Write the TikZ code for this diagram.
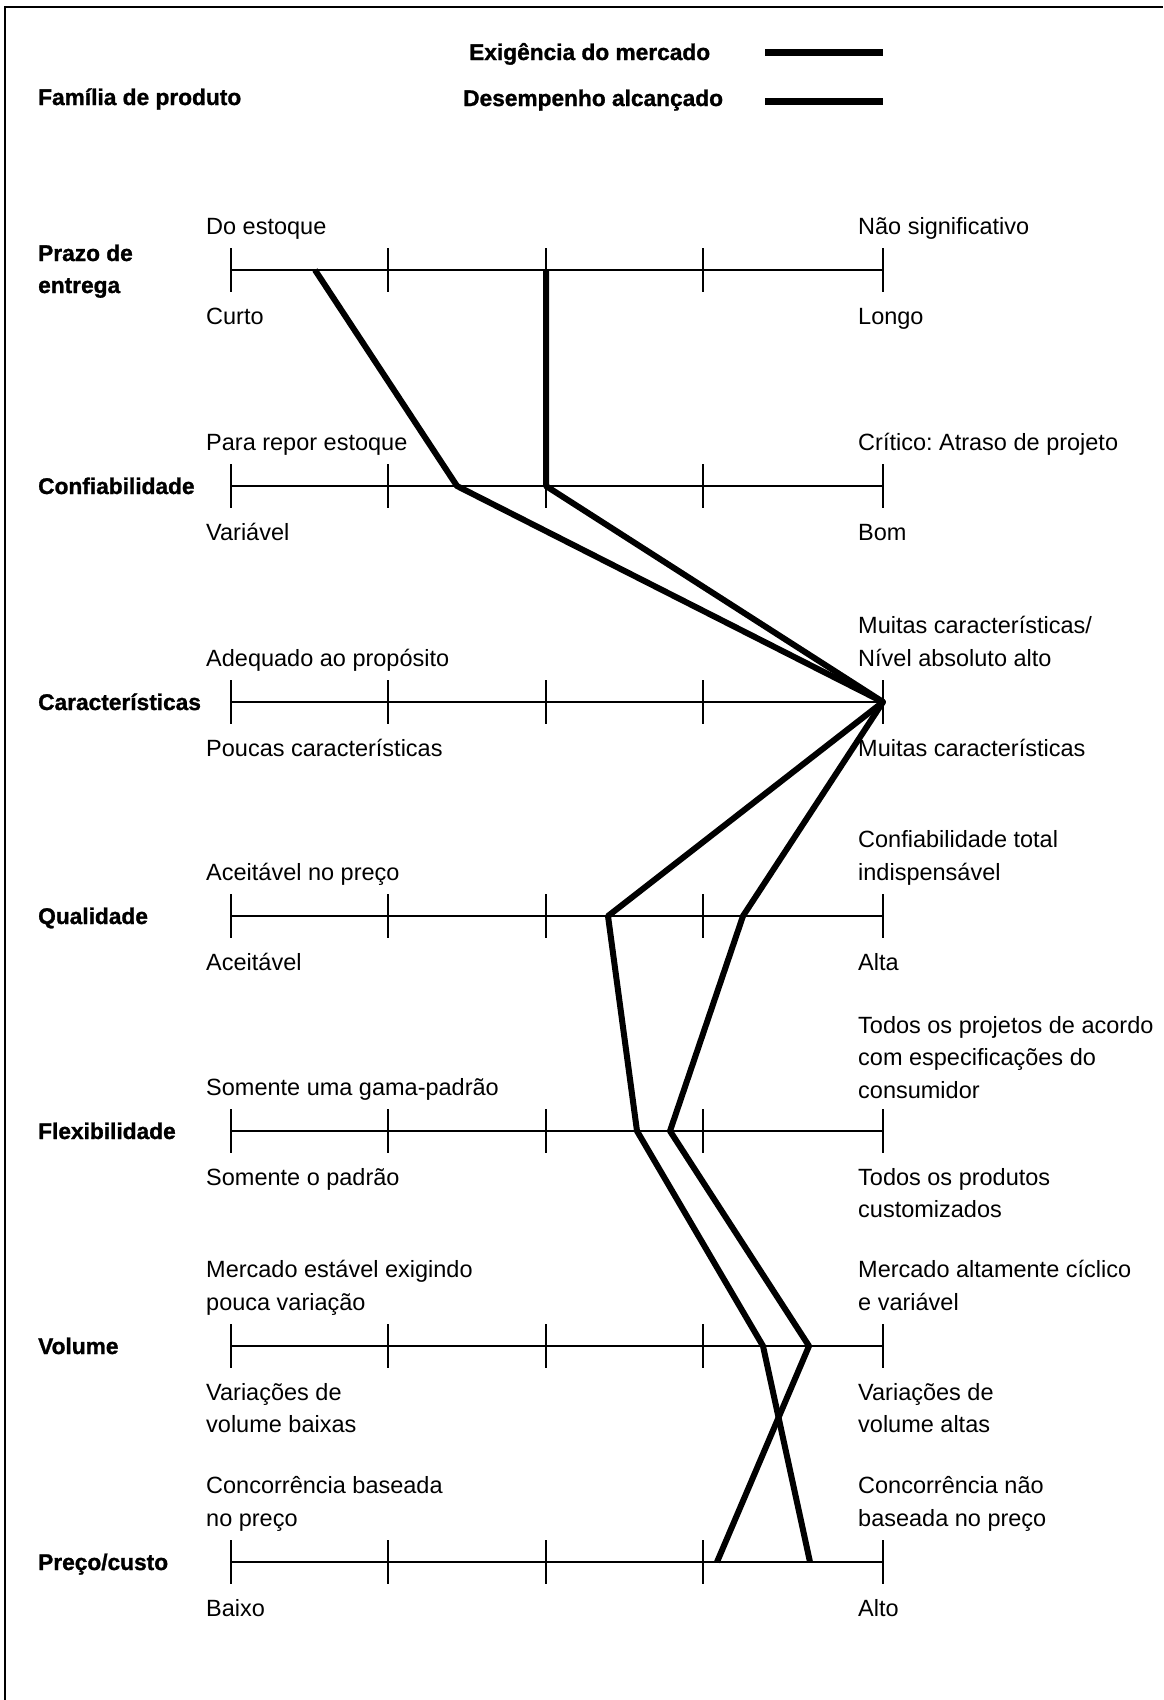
\documentclass[tikz,border=0pt]{standalone}
\usepackage{fontspec}
\setmainfont{Liberation Sans}[BoldFeatures={FakeBold=1.2}]
\frenchspacing
\begin{document}
\begin{tikzpicture}[x=1pt,y=-1pt,
  txt/.style={inner sep=0pt, anchor=base west, font=\fontsize{23.5}{32.5}\selectfont, align=left},
  head/.style={inner sep=0pt, anchor=base west, font=\fontsize{22.7}{32}\selectfont\bfseries, align=left},
  axisline/.style={line width=2pt},
  tickline/.style={line width=1.8pt},
  profile/.style={line width=6pt, line join=round},
  legendline/.style={line width=7pt}]
\useasboundingbox (0,0) rectangle (1163,1700);

% open frame: top and left edges
\draw[line width=2.5pt] (5,1700) -- (5,7) -- (1163,7);

% header and legend
\node[head] (family) at (38,105) {Família de produto};
\node[head] (leg1) at (469,60) {Exigência do mercado};
\node[head] (leg2) at (463,106) {Desempenho alcançado};
\coordinate (l1a) at (765,52);  \coordinate (l1b) at (883,52);
\coordinate (l2a) at (765,101); \coordinate (l2b) at (883,101);
\draw[legendline] (l1a) -- (l1b);
\draw[legendline] (l2a) -- (l2b);

% scales with five ticks each
\foreach \y in {270,486,702,916,1131,1346,1562} {
  \draw[axisline] (231,\y) -- (883,\y);
  \foreach \x in {231,388,546,703,883}
    \draw[tickline] (\x,{\y-22}) -- (\x,{\y+22});
}

% criterion names (anchor = baseline of the last line)
\node[head] (r1) at (38,293) {Prazo de\\entrega};
\node[head] (r2) at (38,494) {Confiabilidade};
\node[head] (r3) at (38,710) {Características};
\node[head] (r4) at (38,924) {Qualidade};
\node[head] (r5) at (38,1139) {Flexibilidade};
\node[head] (r6) at (38,1354) {Volume};
\node[head] (r7) at (38,1570) {Preço/custo};

% scale end descriptions: left side
\node[txt] (a1) at (206,234) {Do estoque};
\node[txt] (a2) at (206,324) {Curto};
\node[txt] (b1) at (206,450) {Para repor estoque};
\node[txt] (b2) at (206,540) {Variável};
\node[txt] (c1) at (206,666) {Adequado ao propósito};
\node[txt] (c2) at (206,756) {Poucas características};
\node[txt] (d1) at (206,880) {Aceitável no preço};
\node[txt] (d2) at (206,970) {Aceitável};
\node[txt] (e1) at (206,1095) {Somente uma gama-padrão};
\node[txt] (e2) at (206,1185) {Somente o padrão};
\node[txt] (f1) at (206,1310) {Mercado estável exigindo\\pouca variação};
\node[txt] (f2) at (206,1432.5) {Variações de\\volume baixas};
\node[txt] (g1) at (206,1526) {Concorrência baseada\\no preço};
\node[txt] (g2) at (206,1616) {Baixo};

% scale end descriptions: right side
\node[txt] (a3) at (858,234) {Não significativo};
\node[txt] (a4) at (858,324) {Longo};
\node[txt] (b3) at (858,450) {Crítico: Atraso de projeto};
\node[txt] (b4) at (858,540) {Bom};
\node[txt] (c3) at (858,666) {Muitas características/\\Nível absoluto alto};
\node[txt] (c4) at (858,756) {Muitas características};
\node[txt] (d3) at (858,880) {Confiabilidade total\\indispensável};
\node[txt] (d4) at (858,970) {Alta};
\node[txt] (e3) at (858,1098) {Todos os projetos de acordo\\com especificações do\\consumidor};
\node[txt] (e4) at (858,1217.5) {Todos os produtos\\customizados};
\node[txt] (f3) at (858,1310) {Mercado altamente cíclico\\e variável};
\node[txt] (f4) at (858,1432.5) {Variações de\\volume altas};
\node[txt] (g3) at (858,1526) {Concorrência não\\baseada no preço};
\node[txt] (g4) at (858,1616) {Alto};

% profile points
\coordinate (p1) at (315,270);
\coordinate (p2) at (457,486);
\coordinate (top) at (883,702);
\coordinate (p4) at (608,916);
\coordinate (p5) at (637,1131);
\coordinate (p6) at (763,1346);
\coordinate (p7) at (810,1562);
\coordinate (q1) at (546,270);
\coordinate (q2) at (546,486);
\coordinate (q4) at (743,916);
\coordinate (q5) at (670,1131);
\coordinate (q6) at (809,1346);
\coordinate (q7) at (717,1562);

\draw[profile] (p1) -- (p2) -- (top) -- (p4) -- (p5) -- (p6) -- (p7);
\draw[profile] (q1) -- (q2) -- (top) -- (q4) -- (q5) -- (q6) -- (q7);
\end{tikzpicture}
\end{document}
